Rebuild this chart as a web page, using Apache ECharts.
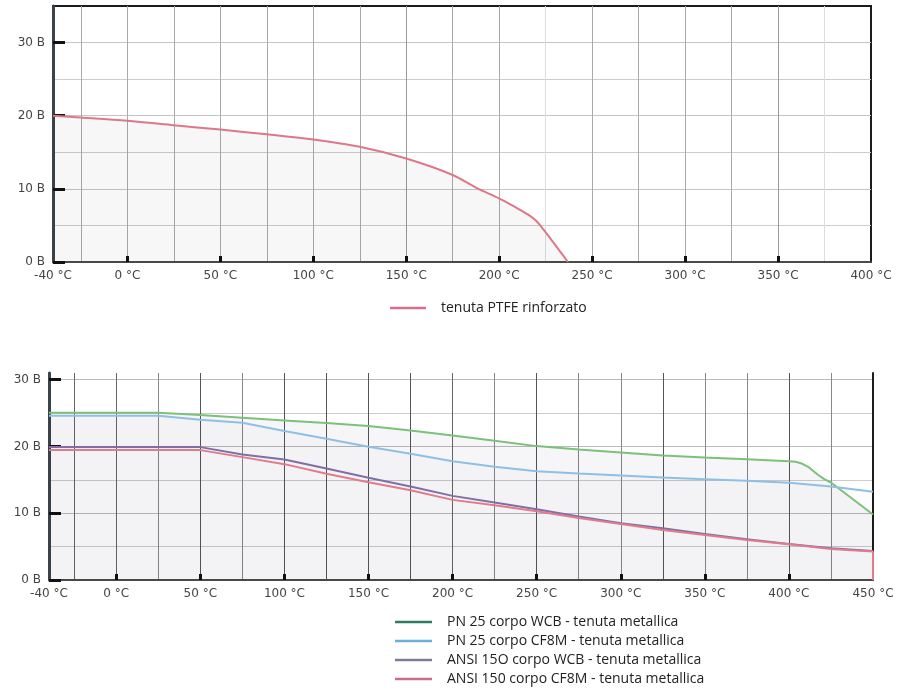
<!DOCTYPE html>
<html><head><meta charset="utf-8">
<script src="https://cdn.jsdelivr.net/npm/echarts@6/dist/echarts.min.js"></script>
<style>html,body{margin:0;padding:0;background:#fff}#c{width:902px;height:696px}</style>
</head><body><div id="c"></div>
<script>
// ---- data ----
const topLabelTemps = [-40, 0, 50, 100, 150, 200, 250, 300, 350, 400];
const topTickTemps = [0, 50, 100, 150, 200, 250, 300, 350];
const bottomLabelTemps = [-40, 0, 50, 100, 150, 200, 250, 300, 350, 400, 450];
const bottomTickTemps = [0, 50, 100, 150, 200, 250, 300, 350, 400];
const pressureTicks = [0, 10, 20, 30];

const ptfeName = 'tenuta PTFE rinforzato';
const ptfeTemps = [-40, -25, 0, 25, 50, 75, 100, 125, 150, 175, 188, 200, 210, 216, 220, 223, 227, 232, 237];
const ptfeValues = [20.0, 19.75, 19.3, 18.7, 18.1, 17.45, 16.75, 15.75, 14.15, 11.9, 10.1, 8.7, 7.3, 6.4, 5.6, 4.7, 3.4, 1.7, 0];

const seriesNames = [
  'PN 25 corpo WCB - tenuta metallica',
  'PN 25 corpo CF8M - tenuta metallica',
  'ANSI 15O corpo WCB - tenuta metallica',
  'ANSI 150 corpo CF8M - tenuta metallica'
];
const greenTemps = [-40, 0, 25, 50, 75, 100, 125, 150, 175, 200, 225, 250, 275, 300, 325, 350, 375, 400, 404, 408, 412, 417, 421, 425, 450];
const greenValues = [25.05, 25.05, 25.05, 24.7, 24.3, 23.9, 23.5, 23.05, 22.4, 21.65, 20.85, 20.05, 19.55, 19.1, 18.65, 18.35, 18.1, 17.8, 17.7, 17.4, 16.85, 15.8, 15.1, 14.6, 9.8];
const metalTemps = [-40, 0, 25, 50, 75, 100, 125, 150, 175, 200, 225, 250, 275, 300, 325, 350, 375, 400, 425, 450];
const blueValues = [24.6, 24.6, 24.6, 24.0, 23.55, 22.3, 21.15, 19.95, 18.9, 17.8, 16.95, 16.3, 15.95, 15.65, 15.35, 15.1, 14.85, 14.55, 14.0, 13.2];
const purpleValues = [19.9, 19.9, 19.9, 19.9, 18.8, 18.05, 16.7, 15.3, 14.0, 12.6, 11.6, 10.6, 9.5, 8.5, 7.75, 6.9, 6.1, 5.4, 4.75, 4.35];
const redTemps = [-40, 0, 25, 50, 75, 100, 125, 150, 175, 200, 225, 250, 275, 300, 325, 350, 375, 400, 425, 450, 450];
const redValues = [19.45, 19.45, 19.45, 19.45, 18.4, 17.35, 15.9, 14.65, 13.45, 12.0, 11.2, 10.3, 9.3, 8.4, 7.5, 6.75, 6.0, 5.35, 4.65, 4.25, 0];

function zip(xs, ys) { return xs.map((x, i) => [x, ys[i]]); }

// ---- styles ----
const labelFont = { color: '#444', fontFamily: 'DejaVu Sans', fontSize: 12 };
const legendFont = { color: '#222', fontFamily: 'Open Sans', fontSize: 14, padding: [0, 0, 0, 10] };
const topVColors = ['rgba(0,0,0,0)', '#aaa', '#aaa', '#aaa', '#aaa', '#aaa', '#aaa', '#aaa', '#999', '#aaa', '#aaa', '#ddd', '#aaa', '#aaa', '#aaa', '#aaa', '#999', '#ddd', 'rgba(0,0,0,0)'];
const botVColors = ['rgba(0,0,0,0)', '#666', '#666', '#888', '#555', '#888', '#555', '#555', '#555', '#555', '#666', '#888', '#555', '#888', '#888', '#555', '#888', '#888', '#555', '#888', 'rgba(0,0,0,0)'];
const botHColors = ['rgba(0,0,0,0)', '#ccc', '#bbb', '#ccc', '#bbb', '#ccc', '#bbb', 'rgba(0,0,0,0)'];

function mainX(grid, max, labels, ticks) {
  return {
    gridIndex: grid, type: 'value', min: -40, max: max,
    axisLine: { show: true, onZero: false, lineStyle: { color: '#4a4a4a', width: 2 } },
    axisTick: { show: true, inside: true, length: 6, customValues: ticks, lineStyle: { color: '#111', width: 3 } },
    axisLabel: Object.assign({ customValues: labels, margin: 8, formatter: v => v + ' °C' }, labelFont),
    splitLine: { show: false }
  };
}
function gridX(grid, max, colors) {
  return {
    gridIndex: grid, type: 'value', min: -40, max: max, minInterval: 25, maxInterval: 25, splitNumber: 18,
    axisLine: { show: false, onZero: false }, axisTick: { show: false }, axisLabel: { show: false },
    splitLine: { show: true, lineStyle: { color: colors, width: 1 } }
  };
}
function mainY(grid, max) {
  return {
    gridIndex: grid, type: 'value', min: 0, max: max,
    axisLine: { show: true, onZero: false, lineStyle: { color: '#3b434a', width: 3 } },
    axisTick: { show: true, inside: true, length: 12, customValues: pressureTicks, lineStyle: { color: '#111', width: 3 } },
    axisLabel: Object.assign({ customValues: pressureTicks, margin: 8, formatter: v => v + ' B' }, labelFont),
    splitLine: { show: false }
  };
}
function gridY(grid, max, colors) {
  return {
    gridIndex: grid, type: 'value', min: 0, max: max, interval: 5,
    axisLine: { show: false, onZero: false }, axisTick: { show: false }, axisLabel: { show: false },
    splitLine: { show: true, lineStyle: { color: colors, width: 1 } }
  };
}
function legendItem(name, color) {
  return { name: name, icon: 'rect', itemStyle: { color: color, borderWidth: 0 } };
}

const chart = echarts.init(document.getElementById('c'), null, { renderer: 'canvas' });
chart.setOption({
  animation: false,
  backgroundColor: '#fff',
  grid: [
    { left: 53, right: 31, top: 6, height: 256, show: true, borderColor: '#1c1c1c', borderWidth: 2, backgroundColor: 'rgba(0,0,0,0)' },
    { left: 49, right: 29, top: 373, height: 207 }
  ],
  xAxis: [
    mainX(0, 400, topLabelTemps, topTickTemps),
    gridX(0, 400, topVColors),
    mainX(1, 450, bottomLabelTemps, bottomTickTemps),
    gridX(1, 450, botVColors)
  ],
  yAxis: [
    mainY(0, 35),
    gridY(0, 35, ['rgba(0,0,0,0)', '#ccc', '#c4c4c4', '#ccc', '#c4c4c4', '#ccc', '#c4c4c4', 'rgba(0,0,0,0)']),
    mainY(1, 31),
    gridY(1, 31, botHColors),
    { gridIndex: 1, type: 'value', min: 0, max: 31, position: 'right',
      axisLine: { show: true, onZero: false, lineStyle: { color: '#1c1c1c', width: 2 } },
      axisTick: { show: false }, axisLabel: { show: false }, splitLine: { show: false } }
  ],
  legend: [
    { left: 390, top: 301, padding: 0, itemWidth: 36, itemHeight: 2.5, icon: 'rect',
      data: [legendItem(ptfeName, '#d4708a')],
      textStyle: legendFont },
    { left: 395, top: 615, padding: 0, orient: 'vertical', itemWidth: 37, itemHeight: 2.5, itemGap: 5, icon: 'rect',
      data: [
        legendItem(seriesNames[0], '#2f7d5f'),
        legendItem(seriesNames[1], '#6cb0d6'),
        legendItem(seriesNames[2], '#827a9c'),
        legendItem(seriesNames[3], '#cc6a8c')
      ],
      textStyle: legendFont }
  ],
  series: [
    { name: ptfeName, type: 'line', xAxisIndex: 0, yAxisIndex: 0, data: zip(ptfeTemps, ptfeValues),
      smooth: 0.3, symbol: 'none',
      lineStyle: { color: '#dc7888', width: 2 }, itemStyle: { color: '#dc7888' },
      areaStyle: { color: 'rgba(0,0,0,0.045)' } },
    { name: seriesNames[0], type: 'line', xAxisIndex: 2, yAxisIndex: 2, data: zip(greenTemps, greenValues),
      smooth: false, symbol: 'none',
      lineStyle: { color: '#7dc07a', width: 2 }, itemStyle: { color: '#7dc07a' },
      areaStyle: { color: 'rgba(30,30,70,0.055)' } },
    { name: seriesNames[1], type: 'line', xAxisIndex: 2, yAxisIndex: 2, data: zip(metalTemps, blueValues),
      smooth: false, symbol: 'none',
      lineStyle: { color: '#8fbfe3', width: 2 }, itemStyle: { color: '#8fbfe3' },
      areaStyle: { color: 'rgba(30,30,70,0.015)' } },
    { name: seriesNames[2], type: 'line', xAxisIndex: 2, yAxisIndex: 2, data: zip(metalTemps, purpleValues),
      smooth: false, symbol: 'none',
      lineStyle: { color: '#7f6fa5', width: 2 }, itemStyle: { color: '#7f6fa5' } },
    { name: seriesNames[3], type: 'line', xAxisIndex: 2, yAxisIndex: 2, data: zip(redTemps, redValues),
      smooth: false, symbol: 'none',
      lineStyle: { color: '#e07b8c', width: 2 }, itemStyle: { color: '#e07b8c' } }
  ]
});
</script>
</body></html>
